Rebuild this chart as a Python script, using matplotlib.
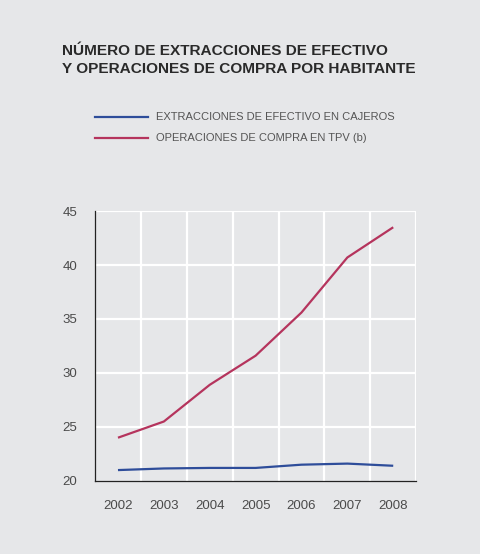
import matplotlib.pyplot as plt

years = ['2002', '2003', '2004', '2005', '2006', '2007', '2008']
cajeros = [21.0, 21.15, 21.2, 21.2, 21.5, 21.6, 21.4]
tpv = [24.0, 25.5, 28.9, 31.6, 35.6, 40.7, 43.5]
yticks = [20, 25, 30, 35, 40, 45]

bg = '#e6e7e9'
plt.rcParams['font.family'] = ['Liberation Sans', 'DejaVu Sans']

fig = plt.figure(figsize=(4.8, 5.54), dpi=100)
fig.patch.set_facecolor(bg)
ax = fig.add_axes([0.198, 0.132, 0.669, 0.487])
ax.set_facecolor(bg)

x = list(range(len(years)))
ax.plot(x, cajeros, color='#2e4d9a', lw=1.6, solid_capstyle='butt')
ax.plot(x, tpv, color='#b5345d', lw=1.6, solid_capstyle='butt')

ax.set_xlim(-0.5, len(years) - 0.5)
ax.set_ylim(20, 45)
ax.set_yticks(yticks)
ax.set_yticklabels([str(v) for v in yticks])
ax.set_xticks(x)
ax.set_xticklabels(years)
for gx in range(len(years)):
    ax.axvline(gx + 0.5, color='white', lw=1.6, zorder=0)
for gy in yticks[1:]:
    ax.axhline(gy, color='white', lw=1.6, zorder=0)

for s in ['top', 'right']:
    ax.spines[s].set_visible(False)
ax.spines['left'].set_color('#222222')
ax.spines['bottom'].set_color('#222222')
ax.spines['left'].set_linewidth(0.9)
ax.spines['bottom'].set_linewidth(0.9)
ax.tick_params(length=0, labelsize=9.5, colors='#4a4a4a')
ax.tick_params(axis='x', pad=14)
ax.tick_params(axis='y', pad=13)

fig.text(62 / 480, 1 - 60 / 554, 'NÚMERO DE EXTRACCIONES DE EFECTIVO\nY OPERACIONES DE COMPRA POR HABITANTE',
         fontsize=11.1, fontweight='bold', color='#2a2a2a', va='center', ha='left', linespacing=1.3)

legend = [('EXTRACCIONES DE EFECTIVO EN CAJEROS', '#2e4d9a', 117),
          ('OPERACIONES DE COMPRA EN TPV (b)', '#b5345d', 138)]
for label, col, yy in legend:
    fy = 1 - yy / 554
    fig.add_artist(plt.Line2D([95 / 480, 148 / 480], [fy, fy], color=col, lw=1.6))
    fig.text(156 / 480, fy, label, fontsize=8, color='#555555', va='center', ha='left')

fig.savefig('out.png', dpi=100, facecolor=bg)
